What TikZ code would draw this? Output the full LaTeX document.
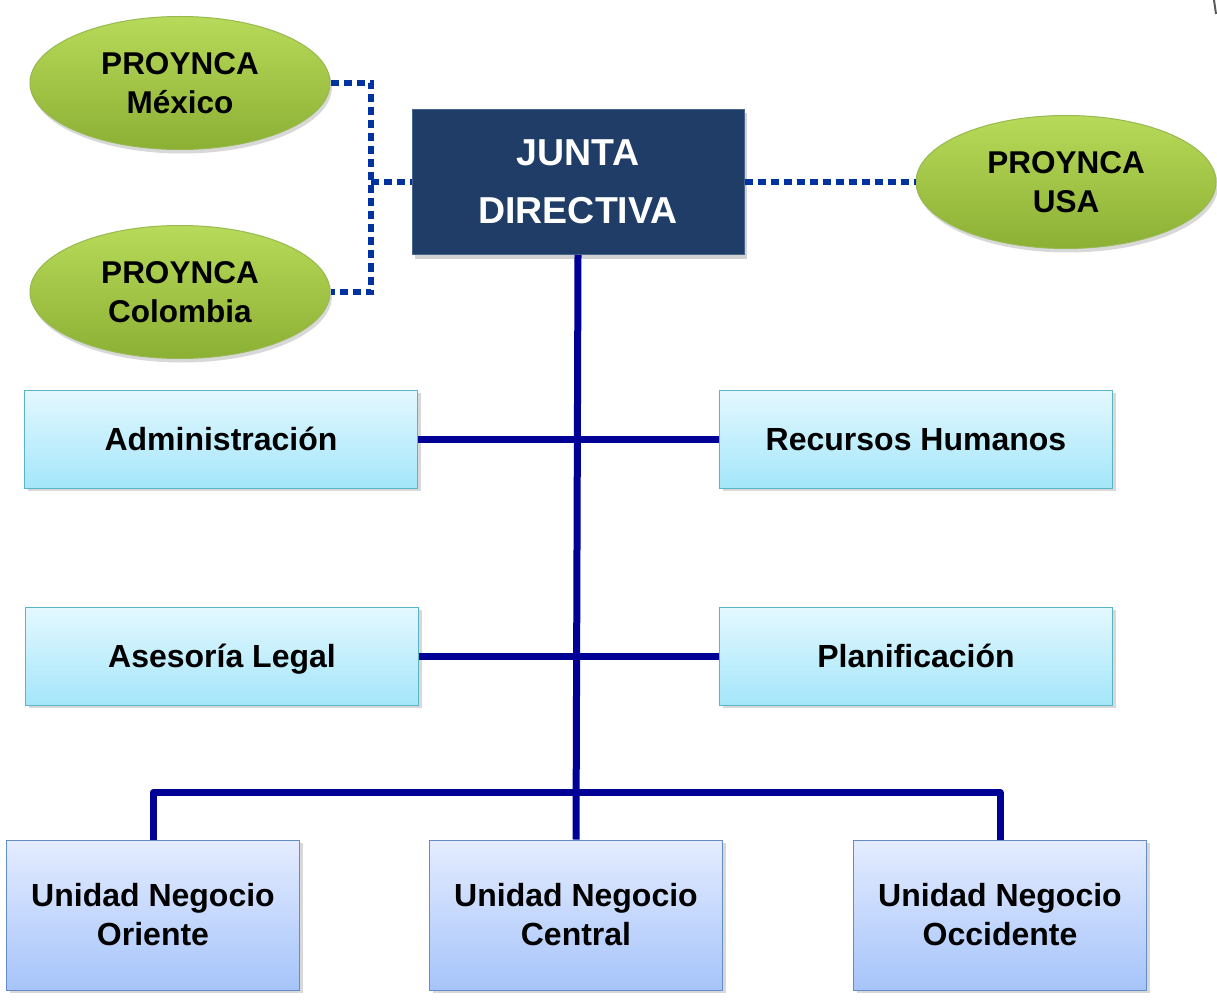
\documentclass[tikz,border=0pt]{standalone}
\usepackage{fontspec}
\setmainfont{Liberation Sans}
\usetikzlibrary{shapes.geometric,shadows}
\definecolor{linenavy}{RGB}{0,0,150}
\definecolor{dotblue}{RGB}{0,51,160}
\definecolor{juntafill}{RGB}{31,61,102}
\definecolor{juntaedge}{RGB}{70,100,140}
\definecolor{greentop}{RGB}{184,218,90}
\definecolor{greenbot}{RGB}{140,176,52}
\definecolor{greenedge}{RGB}{150,185,80}
\definecolor{cyantop}{RGB}{228,248,255}
\definecolor{cyanbot}{RGB}{164,230,250}
\definecolor{cyanedge}{RGB}{90,180,200}
\definecolor{bluetop}{RGB}{228,236,255}
\definecolor{bluebot}{RGB}{166,196,250}
\definecolor{blueedge}{RGB}{100,140,200}
\tikzset{
  greenell/.style={ellipse, draw=greenedge, line width=1pt, top color=greentop, bottom color=greenbot,
    minimum width=300pt, minimum height=133pt, inner sep=0pt, align=center,
    font=\bfseries\fontsize{31.5}{39}\selectfont,
    drop shadow={shadow xshift=2pt, shadow yshift=-4pt, opacity=0.3}},
  juntabox/.style={rectangle, draw=juntaedge, line width=1pt, fill=juntafill,
    minimum width=332pt, minimum height=145pt, inner sep=0pt, align=center, text=white,
    font=\bfseries\fontsize{37.5}{58}\selectfont,
    drop shadow={shadow xshift=3pt, shadow yshift=-4pt, opacity=0.35}},
  cyanbox/.style={rectangle, draw=cyanedge, line width=1pt, top color=cyantop, bottom color=cyanbot,
    minimum width=393pt, minimum height=98pt, inner sep=0pt, align=center,
    text height=26pt, text depth=4pt,
    font=\bfseries\fontsize{32}{38}\selectfont,
    drop shadow={shadow xshift=3pt, shadow yshift=-3pt, opacity=0.3}},
  bluebox/.style={rectangle, draw=blueedge, line width=1pt, top color=bluetop, bottom color=bluebot,
    minimum width=293pt, minimum height=150pt, inner sep=0pt, align=center,
    font=\bfseries\fontsize{32}{39}\selectfont,
    drop shadow={shadow xshift=3pt, shadow yshift=-3pt, opacity=0.3}},
  dotline/.style={draw=dotblue, line width=6pt, dash pattern=on 8pt off 5pt},
  solidline/.style={draw=linenavy, line width=7pt}
}
\begin{document}
\begin{tikzpicture}[x=1pt,y=-1pt]
\useasboundingbox (0,0) rectangle (1217,1000);
\fill[white] (0,0) rectangle (1217,1000);

\coordinate (jx) at (371,182);

\node[greenell] (mex) at (180,83) {PROYNCA\\México};
\node[greenell] (col) at (180,292) {PROYNCA\\Colombia};
\node[greenell] (usa) at (1066,182) {PROYNCA\\USA};

\node[cyanbox] (adm) at (221,439) {Administración};
\node[cyanbox] (rh) at (916,439) {Recursos Humanos};
\node[cyanbox] (ase) at (222,656) {Asesoría Legal};
\node[cyanbox] (plan) at (916,656) {Planificación};

\node[bluebox] (ori) at (153,915) {Unidad Negocio\\Oriente};
\node[bluebox] (cen) at (576,915) {Unidad Negocio\\Central};
\node[bluebox] (occ) at (1000,915) {Unidad Negocio\\Occidente};

\node[juntabox] (junta) at (578,182) {JUNTA\\DIRECTIVA};

\draw[dotline] (mex.east) -| (jx) |- (col.east);
\draw[dotline] (jx) -- (junta.west);
\draw[dotline] (junta.east) -- (usa.west);

\draw[solidline] (junta.south) -- (cen.north);
\draw[solidline] (adm.east) -- (rh.west);
\draw[solidline] (ase.east) -- (plan.west);
\draw[solidline, line join=round] (ori.north) -- ++(0,-47) -| (occ.north);

\draw[gray!70!black, line width=2pt] (1214,0) -- (1216,14);
\end{tikzpicture}
\end{document}
